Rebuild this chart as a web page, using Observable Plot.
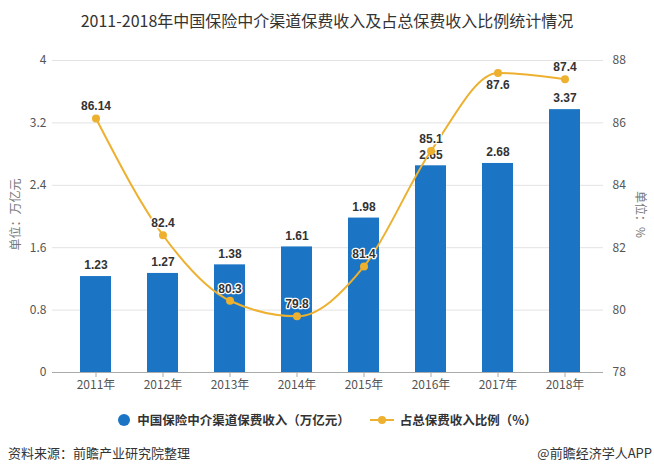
<!DOCTYPE html>
<html>
<head>
<meta charset="utf-8">
<script src="https://cdn.jsdelivr.net/npm/d3@7"></script>
<script src="https://cdn.jsdelivr.net/npm/@observablehq/plot@0.6"></script>
<style>
  html, body { margin: 0; padding: 0; background: #fff; }
  body { width: 654px; height: 471px; position: relative; overflow: hidden; font-family: "Noto Sans CJK SC", "Noto Sans", sans-serif; }
  #title { position: absolute; left: 0; top: 8px; width: 654px; text-align: center; font-size: 16px; color: #333; line-height: 24px; font-family: "Noto Sans CJK SC", sans-serif; }
  #chart { position: absolute; left: 0; top: 40px; }
  #legend { position: absolute; left: 0; top: 410px; width: 654px; display: flex; justify-content: center; align-items: center; font-size: 12.5px; color: #333; font-weight: bold; }
  .item { display: flex; align-items: center; margin: 0 10px; }
  #footer-l { position: absolute; left: 8px; top: 443px; font-size: 13px; color: #333; }
  #footer-r { position: absolute; right: 2px; top: 443px; font-size: 13px; color: #333; }
  .ylab { position: absolute; font-size: 12px; color: #777; white-space: nowrap; }
</style>
</head>
<body>
<div id="title">2011-2018年中国保险中介渠道保费收入及占总保费收入比例统计情况</div>
<div id="chart"></div>
<div class="ylab" id="ylabL" style="left:-22px; top:206px; transform: rotate(-90deg);">单位：万亿元</div>
<div class="ylab" id="ylabR" style="left:618px; top:206px; transform: rotate(90deg);">单位：%</div>
<div id="legend">
  <div class="item"><svg width="14" height="14" style="margin-right:6px"><circle cx="7" cy="7" r="6" fill="#1b75c4"/></svg>中国保险中介渠道保费收入（万亿元）</div>
  <div class="item"><svg width="24" height="14" style="margin-right:6px"><line x1="0" y1="7" x2="24" y2="7" stroke="#edb02f" stroke-width="2"/><circle cx="12" cy="7" r="4" fill="#edb02f"/></svg>占总保费收入比例（%）</div>
</div>
<div id="footer-l">资料来源：前瞻产业研究院整理</div>
<div id="footer-r">@前瞻经济学人APP</div>
<script>
const years = ["2011", "2012", "2013", "2014", "2015", "2016", "2017", "2018"];
const revenue = [1.23, 1.27, 1.38, 1.61, 1.98, 2.65, 2.68, 3.37];
const share = [86.14, 82.4, 80.3, 79.8, 81.4, 85.1, 87.6, 87.4];
const shareLabels = ["86.14", "82.4", "80.3", "79.8", "81.4", "85.1", "87.6", "87.4"];
const shareLabelBelow = [false, false, false, false, false, false, true, false];
const leftTicks = [0, 0.8, 1.6, 2.4, 3.2, 4];
const rightMin = 78, rightMax = 88;

const toLeft = p => (p - rightMin) / (rightMax - rightMin) * 4;
const data = years.map((y, i) => ({
  year: y,
  rev: revenue[i],
  pct: share[i],
  pctY: toLeft(share[i]),
  pctLabel: shareLabels[i],
  below: shareLabelBelow[i]
}));

const blue = "#1b75c4";
const gold = "#edb02f";
const numFont = "'Liberation Sans', Arial, sans-serif";

const chart = Plot.plot({
  width: 654,
  height: 360,
  marginLeft: 52,
  marginRight: 51,
  marginTop: 20,
  marginBottom: 28,
  style: { fontFamily: "'Noto Sans CJK SC', 'Noto Sans', sans-serif", fontSize: "12px", color: "#555", background: "#fff" },
  x: { domain: years, paddingInner: 0.54, paddingOuter: 0.27, insetLeft: 9, insetRight: 5, label: null },
  y: { domain: [0, 4], label: null },
  marks: [
    Plot.ruleY(leftTicks.filter(d => d > 0), { stroke: "#e3e3e3", strokeWidth: 1 }),
    Plot.barY(data, { x: "year", y: "rev", fill: blue }),
    Plot.ruleY([0], { stroke: "#aaa", strokeWidth: 1 }),
    Plot.axisX({ tickSize: 5, tickPadding: 3, stroke: "#aaa", fill: "#555", fontSize: 12, label: null, tickFormat: d => d + "年" }),
    Plot.axisY({ anchor: "left", ticks: leftTicks, tickSize: 0, tickPadding: 6, label: null, fill: "#555", fontSize: 12, tickFormat: d => String(d) }),
    Plot.axisY({ anchor: "right", ticks: leftTicks, tickSize: 0, tickPadding: 9, label: null, fill: "#555", fontSize: 12, tickFormat: d => String(Math.round(rightMin + d * 2.5)) }),
    Plot.text(data, { x: "year", y: "rev", text: d => d.rev.toFixed(2), dy: -11, fontWeight: "bold", fontSize: 12, fill: "#333", fontFamily: numFont }),
    Plot.line(data, { x: "year", y: "pctY", stroke: gold, strokeWidth: 2, curve: "monotone-x" }),
    Plot.dot(data, { x: "year", y: "pctY", r: 4, fill: gold, stroke: null }),
    Plot.text(data, { x: "year", y: "pctY", text: "pctLabel", filter: d => !d.below, dy: -12, fontWeight: "bold", fontSize: 12, fill: "#333", stroke: "#fff", strokeWidth: 2.5, paintOrder: "stroke", fontFamily: numFont }),
    Plot.text(data, { x: "year", y: "pctY", text: "pctLabel", filter: d => d.below, dy: 12, fontWeight: "bold", fontSize: 12, fill: "#333", stroke: "#fff", strokeWidth: 2.5, paintOrder: "stroke", fontFamily: numFont })
  ]
});
document.getElementById("chart").appendChild(chart);
</script>
</body>
</html>
